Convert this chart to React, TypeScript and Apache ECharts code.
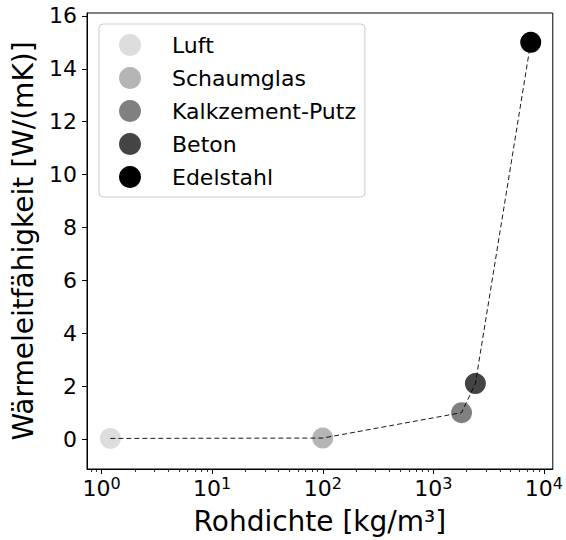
import React, { useEffect, useRef } from "react";
import * as echarts from "echarts";

const materials = ["Luft", "Schaumglas", "Kalkzement-Putz", "Beton", "Edelstahl"];
const density = [1.2, 100, 1800, 2400, 7600];
const conductivity = [0.026, 0.04, 1.0, 2.1, 15];
const markerColors = ["#dddddd", "#b5b5b5", "#808080", "#444444", "#000000"];

const xMajorTicks = [1, 10, 100, 1000, 10000];
const xMinorTicks = [
  0.8, 0.9,
  2, 3, 4, 5, 6, 7, 8, 9,
  20, 30, 40, 50, 60, 70, 80, 90,
  200, 300, 400, 500, 600, 700, 800, 900,
  2000, 3000, 4000, 5000, 6000, 7000, 8000, 9000,
];
const yTicks = [0, 2, 4, 6, 8, 10, 12, 14, 16];

const FONT = "DejaVu Sans";

export default function App() {
  const ref = useRef<HTMLDivElement>(null);
  useEffect(() => {
    if (!ref.current) return;
    const chart = echarts.init(ref.current, null, { renderer: "svg" });
    const xMin = 0.738;
    const xMax = 12030;
    const scatterSeries = materials.map((m, i) => ({
      name: m,
      type: "scatter",
      xAxisIndex: 0,
      yAxisIndex: 0,
      data: [[density[i], conductivity[i]]],
      symbol: "circle",
      symbolSize: 21,
      itemStyle: { color: markerColors[i], opacity: 1 },
      z: 2,
    }));
    const option: any = {
      animation: false,
      backgroundColor: "#ffffff",
      textStyle: { fontFamily: FONT },
      grid: {
        left: 87,
        right: 9,
        top: 13,
        bottom: 70,
        show: true,
        borderColor: "#000000",
        borderWidth: 1,
        backgroundColor: "transparent",
      },
      legend: {
        data: materials.map((m) => ({ name: m, icon: "circle" })),
        orient: "vertical",
        left: 99,
        top: 24,
        padding: [10, 9, 9, 20],
        itemGap: 11,
        itemWidth: 22,
        itemHeight: 22,
        backgroundColor: "rgba(255,255,255,0.8)",
        borderColor: "#cccccc",
        borderWidth: 1,
        borderRadius: 4,
        textStyle: {
          fontFamily: FONT,
          fontSize: 22,
          color: "#000000",
          lineHeight: 22,
          padding: [0, 0, 0, 26],
        },
        selectedMode: false,
      },
      xAxis: [
        {
          type: "log",
          logBase: 10,
          min: xMin,
          max: xMax,
          position: "bottom",
          axisLine: { show: true, onZero: false, lineStyle: { color: "#000", width: 1 } },
          axisTick: {
            show: true,
            length: 5,
            customValues: xMajorTicks,
            lineStyle: { color: "#000", width: 1 },
          },
          axisLabel: {
            show: true,
            customValues: xMajorTicks,
            margin: 6,
            color: "#000",
            fontFamily: FONT,
            formatter: (v: number) => `{b|10}{s|${Math.round(Math.log10(v))}}`,
            rich: {
              b: { fontSize: 22, fontFamily: FONT, color: "#000", verticalAlign: "bottom", lineHeight: 24 },
              s: { fontSize: 16, fontFamily: FONT, color: "#000", verticalAlign: "top", lineHeight: 24 },
            },
          },
          splitLine: { show: false },
          name: "Rohdichte [kg/m³]",
          nameLocation: "middle",
          nameGap: 38,
          nameTextStyle: { fontFamily: FONT, fontSize: 28, color: "#000" },
        },
        {
          type: "log",
          logBase: 10,
          min: xMin,
          max: xMax,
          position: "bottom",
          gridIndex: 0,
          axisLine: { show: false, onZero: false },
          axisTick: {
            show: true,
            length: 3,
            customValues: xMinorTicks,
            lineStyle: { color: "#000", width: 0.8 },
          },
          axisLabel: { show: false },
          splitLine: { show: false },
        },
      ],
      yAxis: {
        type: "value",
        min: -1.13,
        max: 16.11,
        axisLine: { show: true, onZero: false, lineStyle: { color: "#000", width: 1 } },
        axisTick: {
          show: true,
          length: 5,
          customValues: yTicks,
          lineStyle: { color: "#000", width: 1 },
        },
        axisLabel: {
          show: true,
          customValues: yTicks,
          margin: 10,
          fontSize: 22,
          fontFamily: FONT,
          color: "#000",
        },
        splitLine: { show: false },
        name: "Wärmeleitfähigkeit [W/(mK)]",
        nameLocation: "middle",
        nameGap: 50,
        nameTextStyle: { fontFamily: FONT, fontSize: 28, color: "#000" },
      },
      series: [
        ...scatterSeries,
        {
          name: "line",
          type: "line",
          xAxisIndex: 0,
          yAxisIndex: 0,
          data: density.map((d, i) => [d, conductivity[i]]),
          symbol: "none",
          lineStyle: { color: "#000", width: 0.9, type: [5, 3] },
          z: 3,
          silent: true,
        },
      ],
    };
    chart.setOption(option);
    return () => chart.dispose();
  }, []);
  return (
    <div
      ref={ref}
      style={{ position: "fixed", left: 0, top: 0, width: 566, height: 540 }}
    />
  );
}
